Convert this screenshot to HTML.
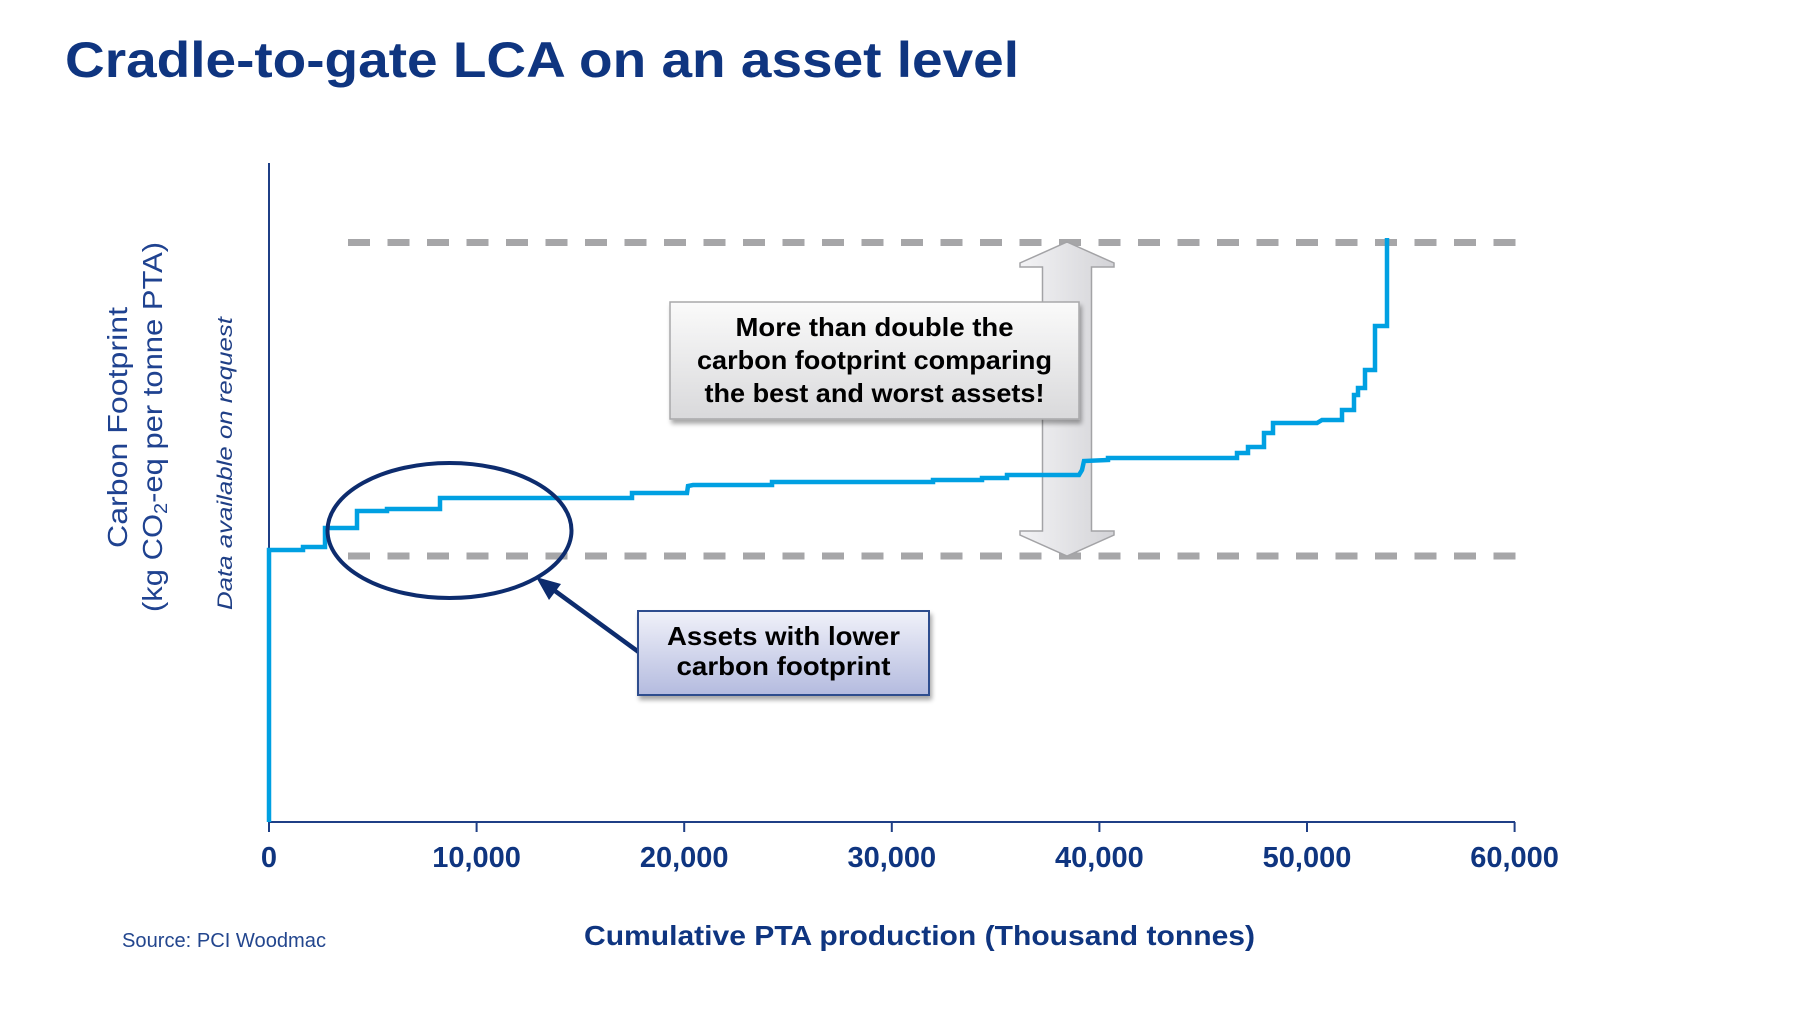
<!DOCTYPE html>
<html>
<head>
<meta charset="utf-8">
<style>
  html, body { margin:0; padding:0; background:#ffffff; }
  svg { display:block; }
</style>
</head>
<body>
<svg width="1800" height="1012" viewBox="0 0 1800 1012" xmlns="http://www.w3.org/2000/svg">
  <defs>
    <linearGradient id="box1" x1="0" y1="0" x2="0" y2="1">
      <stop offset="0" stop-color="#fafafa"/>
      <stop offset="1" stop-color="#d9d9db"/>
    </linearGradient>
    <linearGradient id="box2" x1="0" y1="0" x2="0" y2="1">
      <stop offset="0" stop-color="#f0f1f9"/>
      <stop offset="1" stop-color="#b4bbdf"/>
    </linearGradient>
    <linearGradient id="darr" x1="0" y1="0" x2="1" y2="0">
      <stop offset="0" stop-color="#f3f3f5"/>
      <stop offset="1" stop-color="#d3d3d7"/>
    </linearGradient>
    <filter id="sh" x="-10%" y="-10%" width="130%" height="140%">
      <feGaussianBlur in="SourceAlpha" stdDeviation="2.5"/>
      <feOffset dx="2" dy="4" result="o"/>
      <feComponentTransfer><feFuncA type="linear" slope="0.35"/></feComponentTransfer>
      <feMerge><feMergeNode/><feMergeNode in="SourceGraphic"/></feMerge>
    </filter>
  </defs>

  <!-- Title -->
  <text x="65" y="77" font-family="Liberation Sans, Arial, sans-serif" font-weight="bold" font-size="50" fill="#0f3580" textLength="954" lengthAdjust="spacingAndGlyphs">Cradle-to-gate LCA on an asset level</text>

  <!-- dashed reference lines -->
  <line x1="348" y1="242.5" x2="1521" y2="242.5" stroke="#a6a6a8" stroke-width="7" stroke-dasharray="22 17.5"/>
  <line x1="348" y1="556" x2="1521" y2="556" stroke="#a6a6a8" stroke-width="7" stroke-dasharray="22 17.5"/>

  <!-- double arrow -->
  <path d="M1067,242 L1114,263 L1114,267 L1091.5,267 L1091.5,531 L1114,531 L1114,535 L1067,556 L1020,535 L1020,531 L1042.5,531 L1042.5,267 L1020,267 L1020,263 Z" fill="url(#darr)" stroke="#a3a3a6" stroke-width="1.5"/>

  <!-- axes -->
  <line x1="269" y1="163" x2="269" y2="823" stroke="#1f3f86" stroke-width="2"/>
  <line x1="268" y1="822" x2="1515" y2="822" stroke="#1f3f86" stroke-width="2"/>
  <g stroke="#1f3f86" stroke-width="2">
    <line x1="269" y1="822" x2="269" y2="832"/>
    <line x1="476.6" y1="822" x2="476.6" y2="832"/>
    <line x1="684.2" y1="822" x2="684.2" y2="832"/>
    <line x1="891.8" y1="822" x2="891.8" y2="832"/>
    <line x1="1099.4" y1="822" x2="1099.4" y2="832"/>
    <line x1="1307" y1="822" x2="1307" y2="832"/>
    <line x1="1514.6" y1="822" x2="1514.6" y2="832"/>
  </g>

  <!-- tick labels -->
  <g font-family="Liberation Sans, Arial, sans-serif" font-weight="bold" font-size="29" fill="#0f3580" text-anchor="middle">
    <text x="269" y="867">0</text>
    <text x="476.6" y="867">10,000</text>
    <text x="684.2" y="867">20,000</text>
    <text x="891.8" y="867">30,000</text>
    <text x="1099.4" y="867">40,000</text>
    <text x="1307" y="867">50,000</text>
    <text x="1514.6" y="867">60,000</text>
  </g>

  <!-- x-axis title -->
  <text x="584" y="945" font-family="Liberation Sans, Arial, sans-serif" font-weight="bold" font-size="28" fill="#0f3580" textLength="671" lengthAdjust="spacingAndGlyphs">Cumulative PTA production (Thousand tonnes)</text>

  <!-- source -->
  <text x="122" y="947" font-family="Liberation Sans, Arial, sans-serif" font-size="20" fill="#23468e" textLength="204" lengthAdjust="spacingAndGlyphs">Source: PCI  Woodmac</text>

  <!-- y-axis labels -->
  <g font-family="Liberation Sans, Arial, sans-serif" fill="#1f4290" text-anchor="middle">
    <text transform="translate(127,427.5) rotate(-90)" font-size="28" textLength="241" lengthAdjust="spacingAndGlyphs">Carbon Footprint</text>
    <text transform="translate(162,427) rotate(-90)" font-size="28" textLength="370" lengthAdjust="spacingAndGlyphs">(kg CO<tspan font-size="18" dy="5">2</tspan><tspan dy="-5">-eq per tonne PTA)</tspan></text>
  </g>
  <text transform="translate(232,463.5) rotate(-90)" font-family="Liberation Sans, Arial, sans-serif" font-style="italic" font-size="21" fill="#1f3f86" text-anchor="middle" textLength="293" lengthAdjust="spacingAndGlyphs">Data available on request</text>

  <!-- callout box 1 -->
  <g filter="url(#sh)">
    <rect x="670" y="302" width="409" height="117" fill="url(#box1)" stroke="#a8a8aa" stroke-width="1.5"/>
  </g>
  <g font-family="Liberation Sans, Arial, sans-serif" font-weight="bold" font-size="26" fill="#000" text-anchor="middle">
    <text x="874.5" y="336" textLength="278" lengthAdjust="spacingAndGlyphs">More than double the</text>
    <text x="874.5" y="369" textLength="355" lengthAdjust="spacingAndGlyphs">carbon footprint comparing</text>
    <text x="874.5" y="402" textLength="340" lengthAdjust="spacingAndGlyphs">the best and worst assets!</text>
  </g>

  <!-- step line -->
  <path d="M269,822 L269,550 L303,550 L303,547 L325,547 L325,528 L357,528 L357,511 L387,511 L387,509 L440,509 L440,498 L632,498 L632,493 L687,493 L688,486 L693,485 L772,485 L772,482 L933,482 L933,480 L982,480 L982,478 L1007,478 L1007,475 L1079,475 L1082,470 L1084,461 L1108,460 L1108,458 L1237,458 L1237,453 L1248,453 L1248,447 L1264,447 L1264,433 L1273,433 L1273,423 L1317,423 L1322,420 L1342,420 L1342,410 L1354,410 L1354,395 L1358,395 L1358,388 L1365,388 L1365,370 L1375,370 L1375,326 L1387,326 L1387,238"
        fill="none" stroke="#00a0e2" stroke-width="4.5" stroke-linejoin="miter"/>

  <!-- ellipse -->
  <ellipse cx="449.5" cy="530.5" rx="122" ry="67.5" fill="none" stroke="#0d2c6e" stroke-width="4"/>

  <!-- arrow to ellipse -->
  <line x1="640" y1="653" x2="551" y2="588" stroke="#0d2c6e" stroke-width="4.5"/>
  <path d="M536,577 L561,584 L549,600 Z" fill="#0d2c6e"/>

  <!-- callout box 2 -->
  <g filter="url(#sh)">
    <rect x="638" y="611" width="291" height="84" fill="url(#box2)" stroke="#2e4d8e" stroke-width="2"/>
  </g>
  <g font-family="Liberation Sans, Arial, sans-serif" font-weight="bold" font-size="26" fill="#000" text-anchor="middle">
    <text x="783.5" y="645" textLength="233" lengthAdjust="spacingAndGlyphs">Assets with lower</text>
    <text x="783.5" y="675" textLength="214" lengthAdjust="spacingAndGlyphs">carbon footprint</text>
  </g>
</svg>
</body>
</html>
